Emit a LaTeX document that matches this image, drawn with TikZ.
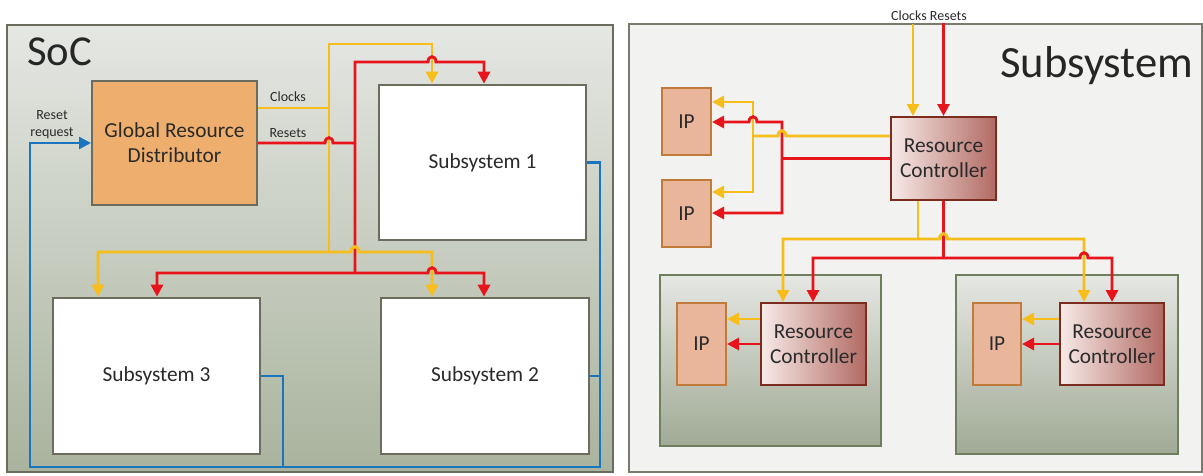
\documentclass[tikz,border=0pt]{standalone}
\usepackage{fontspec}
\setmainfont{Carlito}
\usetikzlibrary{arrows.meta, fit}
\definecolor{clkgold}{HTML}{F7BD1A}
\definecolor{rstred}{HTML}{E8141B}
\definecolor{reqblue}{HTML}{1B75BE}
\definecolor{grdorange}{HTML}{EEAE6E}
\definecolor{ippeach}{HTML}{E9B69C}
\definecolor{ipedge}{HTML}{C07A3A}
\definecolor{rclight}{HTML}{F7EAE7}
\definecolor{rcdark}{HTML}{B26A63}
\definecolor{rcedge}{HTML}{7B2C1E}
\definecolor{grayline}{HTML}{6B6B5E}
\definecolor{paneltop}{HTML}{E5E7E3}
\definecolor{panelbot}{HTML}{A9B39D}
\definecolor{subedge}{HTML}{6F7F5D}
\definecolor{offwhite}{HTML}{F2F2F0}
\definecolor{dkgray}{HTML}{2A2A2A}

\begin{document}
\begin{tikzpicture}[x=0.75pt, y=-0.75pt, >={Triangle[length=9pt, width=9pt]},
  panel/.style={draw=#1, line width=1.5pt, inner sep=0pt},
  boxsize/.style 2 args={minimum width=#1*0.75pt, minimum height=#2*0.75pt},
  blk/.style={draw=grayline, line width=2pt, inner sep=0pt, align=center,
    text=dkgray, font=\fontsize{16}{19}\selectfont},
  ipbox/.style={blk, draw=ipedge, line width=1.5pt, fill=ippeach},
  rcbox/.style={blk, draw=rcedge, line width=1.5pt, left color=rclight, right color=rcdark},
  clk/.style={clkgold, line width=2.2pt},
  rst/.style={rstred, line width=2.2pt},
  req/.style={reqblue, line width=1.9pt},
  tag/.style={font=\fontsize{10.5}{12.6}\selectfont, text=dkgray, inner sep=0pt, align=center},
  title/.style={font=\fontsize{32}{38}\selectfont, text=black!85, anchor=base west, inner sep=0pt}]

\useasboundingbox (0,0) rectangle (1203,475);

% SoC side
\node[panel=grayline, top color=paneltop, bottom color=panelbot, fit={(7,25) (613,472)}] (soc) {};
\node[title] (soctitle) at (27,65) {SoC};

\node[blk, line width=1.5pt, fill=grdorange, boxsize={165}{124}] (grd) at (174.5,143) {Global Resource\\Distributor};
\node[blk, fill=white, boxsize={207}{155}] (ss1) at (482.5,162.5) {Subsystem 1};
\node[blk, fill=white, boxsize={208}{156}] (ss2) at (485,376) {Subsystem 2};
\node[blk, fill=white, boxsize={207}{156}] (ss3) at (156.5,376) {Subsystem 3};

\node[tag] (clklbl) at (288,97) {Clocks};
\node[tag] (rstlbl) at (288,133) {Resets};
\node[tag] (reqlbl) at (52,125) {Reset\\request};

\coordinate (ckbus) at (329,44);
\coordinate (ckbot) at (329,252);
\coordinate (rsbus) at (355,62);
\coordinate (rsbot) at (355,273);

% Clocks
\draw[clk] (grd.east |- 0,108) -- (ckbus |- 0,108);
\draw[clk, ->] (ckbot) -- (ckbus) -| (ss1.north -| 432,0);

% Resets
\draw[rst] (grd.east) -- (325,143) .. controls (325,136) and (333,136) .. (333,143) -- (rsbus |- grd.east);
\draw[rst, ->] (rsbot) -- (rsbus) -- (428,62) .. controls (428,55) and (436,55) .. (436,62) -| (ss1.north -| 484,0);

% Lower clocks and resets
\draw[clk, <->] (ss3.north -| 98,0) -- (98,252) -- (351,252) .. controls (351,245) and (359,245) .. (359,252) -| (ss2.north -| 432,0);
\draw[rst, <->] (ss3.north -| 157,0) -- (157,273) -- (428,273) .. controls (428,266) and (436,266) .. (436,273) -| (ss2.north -| 484,0);

% Reset requests
\draw[req, ->] (ss1.east) -| (600,467) -| (30,143) -- (grd.west);
\draw[req] (ss2.east) -- (ss2.east -| 600,0);
\draw[req] (ss3.east) -| (283,467);

% Subsystem side
\node[panel=grayline!90, fill=offwhite, fit={(629,24) (1202,472)}] (sspanel) {};
\node[title, font=\fontsize{33.5}{40}\selectfont] (sstitle) at (1000,77) {Subsystem};
\node[tag] (inlbl) at (929,16) {Clocks\ Resets};

\node[rcbox, boxsize={105}{83}] (rc) at (943.5,158.5) {Resource\\Controller};
\node[ipbox, boxsize={49}{67}] (ip1) at (686.5,121.5) {IP};
\node[ipbox, boxsize={49}{67}] (ip2) at (686.5,213.5) {IP};

\node[panel=subedge, top color=paneltop, bottom color=panelbot!95!black, fit={(660,275) (881,446)}] (suba) {};
\node[panel=subedge, top color=paneltop, bottom color=panelbot!95!black, fit={(956,275) (1178,454)}] (subb) {};
\node[rcbox, boxsize={105}{82}] (rca) at (813.5,344) {Resource\\Controller};
\node[ipbox, boxsize={49}{82}] (ipa) at (701.5,344) {IP};
\node[rcbox, boxsize={104}{82}] (rcb) at (1112,344) {Resource\\Controller};
\node[ipbox, boxsize={48}{82}] (ipb) at (997,344) {IP};

% Inputs
\coordinate (ckin) at (913,24);
\coordinate (rsin) at (rc.north |- sspanel.north);
\draw[clk, ->] (ckin) -- (ckin |- rc.north);
\draw[rst, ->] (rsin) -- (rc.north);

% To the local IPs
\draw[clk, <->] (ip1.east |- 0,102) -- (753,102) -- (753,192) -- (ip2.east |- 0,192);
\draw[rst, <->] (ip1.east |- 0,122) -- (749,122) .. controls (749,115) and (757,115) .. (757,122) -- (782,122) -- (782,213) -- (ip2.east |- 0,213);
\draw[rst] (rc.west) -- (rc.west -| 782,0);
\draw[clk] (rc.west |- 0,136) -- (786,136) .. controls (786,129) and (778,129) .. (778,136) -- (753,136);

% To the child controllers
\draw[rst] (rc.south) -- (rc.south |- 0,258);
\draw[clk] (rc.south -| 918,0) -- (918,239);
\draw[clk, <->] (rca.north -| 783,0) -- (783,239) -- (939.5,239) .. controls (939.5,232) and (947.5,232) .. (947.5,239) -- (1084,239) -- (rcb.north -| 1084,0);
\draw[rst, <->] (rca.north -| 813,0) -- (813,258) -- (1080,258) .. controls (1080,251) and (1088,251) .. (1088,258) -- (1112,258) -- (rcb.north -| 1112,0);

% Inside the child subsystems
\draw[clk, ->] (rca.west |- 0,319) -- (ipa.east |- 0,319);
\draw[rst, ->] (rca.west) -- (ipa.east);
\draw[clk, ->] (rcb.west |- 0,319) -- (ipb.east |- 0,319);
\draw[rst, ->] (rcb.west) -- (ipb.east);

\end{tikzpicture}
\end{document}
